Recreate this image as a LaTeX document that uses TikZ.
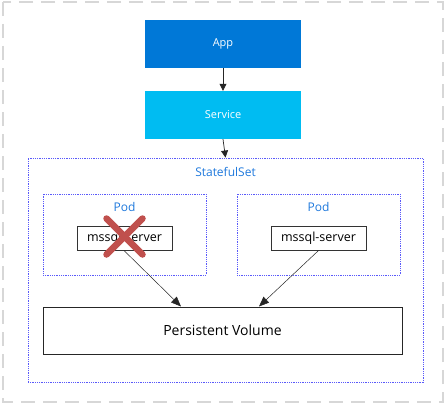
\documentclass[tikz,border=0pt]{standalone}
\usepackage{fontspec}
\setmainfont{Open Sans}
\usetikzlibrary{arrows.meta,calc}
\definecolor{appblue}{RGB}{0,120,215}
\definecolor{svcblue}{RGB}{0,188,242}
\definecolor{dotblue}{RGB}{90,90,250}
\definecolor{lblblue}{RGB}{30,120,220}
\definecolor{xred}{RGB}{192,80,77}
\definecolor{frame}{RGB}{215,215,215}
\tikzset{
  solidbox/.style={minimum width=156pt,minimum height=48pt,inner sep=0pt,text=white,font=\fontsize{11}{13}\selectfont},
  dotbox/.style={draw=dotblue,line width=0.9pt,dash pattern=on 0.9pt off 0.9pt,inner sep=0pt},
  srvbox/.style={draw=black!80,line width=1pt,fill=white,minimum width=95pt,minimum height=24pt,inner sep=0pt,font=\fontsize{12.5}{14}\selectfont},
  lbl/.style={text=lblblue,font=\fontsize{12}{14}\selectfont},
  arr/.style={-{Triangle[length=7pt,width=7pt]},line width=0.7pt,draw=black!85},
  thinarr/.style={-{Triangle[length=10pt,width=8pt]},line width=0.5pt,draw=black!85},
}
\begin{document}
\begin{tikzpicture}[x=1pt,y=-1pt]
\useasboundingbox (0,0) rectangle (446,404);
\draw[frame,line width=2pt,dash pattern=on 14pt off 8pt] (3,2) rectangle (443,402);
\node[solidbox,fill=appblue] (app) at (223,44) {App};
\node[solidbox,fill=svcblue] (svc) at (223,115) {Service};
\node[dotbox,minimum width=395pt,minimum height=224pt] (ss) at (225.5,270) {};
\node[lbl] (sslbl) at (225.5,172) {StatefulSet};
\node[dotbox,minimum width=163pt,minimum height=81pt] (podL) at (124.5,234.5) {};
\node[dotbox,minimum width=163pt,minimum height=81pt] (podR) at (318.5,234.5) {};
\node[lbl] (podLlbl) at (124.5,207) {Pod};
\node[lbl] (podRlbl) at (318.5,207) {Pod};
\node[srvbox] (mL) at (124.5,238) {mssql-server};
\node[srvbox] (mR) at (318.5,238) {mssql-server};
\node[draw=black!85,line width=1pt,minimum width=359pt,minimum height=47pt,inner sep=0pt,font=\fontsize{14}{16}\selectfont] (pv) at (222.5,330.5) {Persistent Volume};
\draw[arr] (app.south) -- (svc.north);
\draw[arr] (svc.south) -- (ss.north);
\draw[thinarr] ([xshift=-0.5pt]mL.south) -- ([xshift=-41.5pt]pv.north);
\draw[thinarr] (mR.south) -- ([xshift=36.5pt]pv.north);
\coordinate (xc) at (124.5,236.5);
\draw[xred,line width=6.5pt,line cap=round] ($(xc)+(-18,-18)$) -- ($(xc)+(18,18)$);
\draw[xred,line width=6.5pt,line cap=round] ($(xc)+(18,-18)$) -- ($(xc)+(-18,18)$);
\end{tikzpicture}
\end{document}
